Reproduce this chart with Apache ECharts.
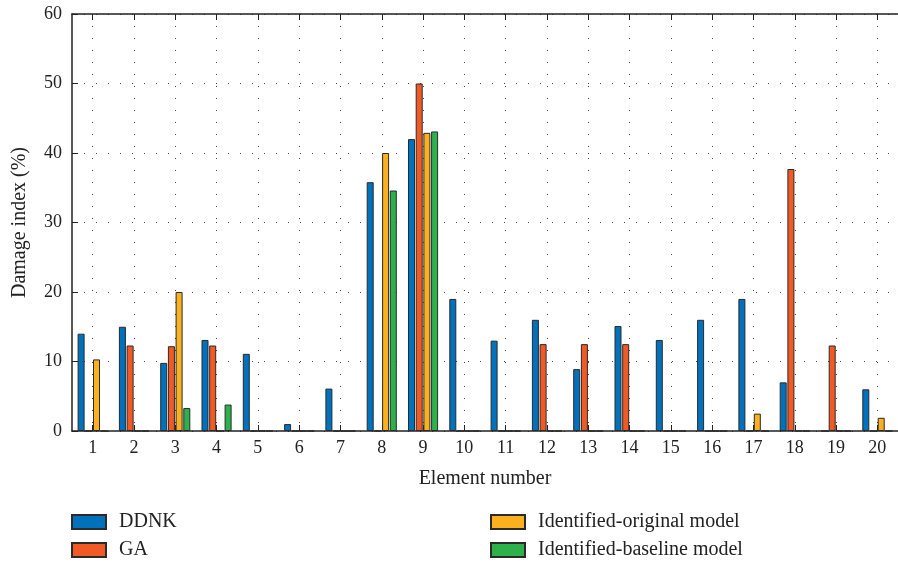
<!DOCTYPE html>
<html>
<head>
<meta charset="utf-8">
<style>html,body{margin:0;padding:0;background:#fff;}#c{width:898px;height:564px;}</style>
<script src="https://cdn.jsdelivr.net/npm/echarts@6/dist/echarts.min.js"></script>
</head>
<body>
<div id="c"></div>
<script>
const categories = ['1','2','3','4','5','6','7','8','9','10','11','12','13','14','15','16','17','18','19','20'];
const ddnk     = [14, 15, 9.8, 13.1, 11.1, 1.0, 6.1, 35.8, 42.0, 19.0, 13.0, 16.0, 8.9, 15.1, 13.1, 16.0, 19.0, 7.0, 0, 6.0];
const ga       = [0, 12.3, 12.2, 12.3, 0, 0, 0, 0, 50.0, 0, 0, 12.5, 12.5, 12.5, 0, 0, 0, 37.7, 12.3, 0];
const original = [10.3, 0, 20.0, 0, 0, 0, 0, 40.0, 42.9, 0, 0, 0, 0, 0, 0, 0, 2.5, 0, 0, 1.9];
const baseline = [0, 0, 3.3, 3.8, 0, 0, 0, 34.6, 43.1, 0, 0, 0, 0, 0, 0, 0, 0, 0, 0, 0];
const seriesNames = ['DDNK', 'GA', 'Identified-original model', 'Identified-baseline model'];
const yTicks = [0, 10, 20, 30, 40, 50, 60];
const xTickValues = [1,2,3,4,5,6,7,8,9,10,11,12,13,14,15,16,17,18,19,20];

const font = 'Liberation Serif';
const colors = ['#0071BC', '#F15A24', '#FBB01F', '#2DB24B'];
const axisColor = '#222';
const dotted = { show: true, lineStyle: { color: '#444', type: [1, 11], width: 1 } };

function bar(name, data, color) {
  return {
    name, type: 'bar', data,
    xAxisIndex: 0,
    barWidth: 7, barGap: '10%',
    itemStyle: { color, borderColor: '#2a2a2a', borderWidth: 1 },
    emphasis: { disabled: true }
  };
}

function legendItem(name, left, top) {
  return {
    data: [name], left, top,
    itemWidth: 34, itemHeight: 14, icon: 'rect', padding: 0,
    textStyle: { fontFamily: font, fontSize: 20, color: '#222', padding: [0, 0, 0, 8] },
    selectedMode: false
  };
}

const chart = echarts.init(document.getElementById('c'), null, { renderer: 'canvas' });
chart.setOption({
  animation: false,
  color: colors,
  textStyle: { fontFamily: font },
  grid: { left: 72, top: 14, width: 836, height: 417, containLabel: false },
  xAxis: [
    {
      type: 'category', data: categories, position: 'bottom',
      boundaryGap: true,
      name: 'Element number', nameLocation: 'middle', nameGap: 38,
      nameTextStyle: { fontFamily: font, fontSize: 20, color: '#222' },
      axisLine: { show: true, lineStyle: { color: axisColor, width: 1.5 } },
      axisTick: { show: true, inside: true, alignWithLabel: true, length: 6, lineStyle: { color: axisColor } },
      axisLabel: { fontFamily: font, fontSize: 18, color: '#222', margin: 8 },
      splitLine: { show: false }
    },
    {
      type: 'value', position: 'top', min: 0.5, max: 20.5,
      axisLine: { show: true, onZero: false, lineStyle: { color: axisColor, width: 1.5 } },
      axisTick: { show: true, inside: true, length: 6, customValues: xTickValues, lineStyle: { color: axisColor } },
      axisLabel: { show: false, customValues: xTickValues },
      splitLine: dotted
    }
  ],
  yAxis: {
    type: 'value', min: yTicks[0], max: yTicks[yTicks.length - 1], interval: 10,
    name: 'Damage index (%)', nameLocation: 'middle', nameGap: 42,
    nameTextStyle: { fontFamily: font, fontSize: 20, color: '#222' },
    axisLine: { show: true, lineStyle: { color: axisColor, width: 1.5 } },
    axisTick: { show: true, inside: true, length: 6, lineStyle: { color: axisColor } },
    axisLabel: { fontFamily: font, fontSize: 18, color: '#222', margin: 10 },
    splitLine: dotted
  },
  legend: [
    legendItem(seriesNames[0], 71, 512),
    legendItem(seriesNames[1], 71, 540),
    legendItem(seriesNames[2], 490, 512),
    legendItem(seriesNames[3], 490, 540)
  ],
  series: [
    bar(seriesNames[0], ddnk, colors[0]),
    bar(seriesNames[1], ga, colors[1]),
    bar(seriesNames[2], original, colors[2]),
    bar(seriesNames[3], baseline, colors[3])
  ]
});
</script>
</body>
</html>
